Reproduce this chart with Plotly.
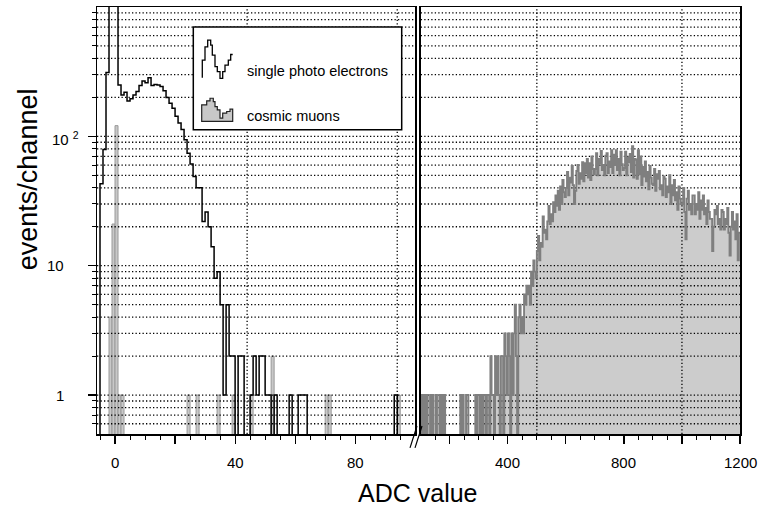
import math
import plotly.graph_objects as go

# ---------------- data ----------------
# Left panel: one ADC channel per bin, bin k covers [k, k+1), channels -6 .. 99
left_first_channel = -6
spe_counts = [
    0, 43, 79, 311, 2000, 2000, 2000,                    # -6 .. 0 (last three off scale)
    250, 209, 219, 188, 195, 209, 222, 247, 268, 260,    # 1 .. 10
    284, 247, 252, 250, 243, 225, 200, 180, 165, 143,    # 11 .. 20
    127, 113, 94, 74, 61, 49, 40, 40, 22, 26,            # 21 .. 30
    20, 14, 8, 9, 5, 1, 5, 2, 2, 0,                      # 31 .. 40
    2, 2, 0, 0, 1, 2, 1, 2, 2, 1,                        # 41 .. 50
    1, 0, 1, 0, 0, 0, 0, 1, 0, 0,                        # 51 .. 60
    1, 1, 1, 0, 0, 0, 0, 0, 0, 0,                        # 61 .. 70
    0, 0, 0, 0, 0, 0, 0, 0, 0, 0,                        # 71 .. 80
    0, 0, 0, 0, 0, 0, 0, 0, 0, 0,                        # 81 .. 90
    0, 0, 1, 0, 0, 0, 0, 0, 0,                           # 91 .. 99
]
# cosmic muons in the left panel (channel: count), all other channels empty
muon_low_nonzero = {-2: 4, -1: 21, 0: 121, 1: 1, 2: 1, 24: 1, 27: 1, 34: 1,
                    39: 1, 45: 1, 52: 2, 70: 1, 71: 1, 94: 1}

# Right panel: cosmic muons, counts per channel, bins of 4 channels from 100 to 1200
muon_first_channel = 100
muon_bin_width = 4
muon_counts = [
    0, 1, 0, 1, 0, 1, 0, 0, 1, 0,   1, 0, 0, 1, 0, 0, 1, 0, 1, 0,      # 100-176
    1, 0, 0, 0, 0, 0, 0, 0, 0, 0,   0, 0, 0, 0, 1, 0, 1, 0, 0, 1,      # 180-256
    1, 0, 0, 0, 0, 0, 0, 1, 0, 1,                                      # 260-296
    1, 0, 1, 0, 1, 1, 0, 1, 1, 0,   2, 1, 1, 0, 2, 1, 2, 1, 0, 2,      # 300-376
    2, 0, 3, 2, 1, 3, 2, 0, 3, 1,   3, 5, 2, 0, 4,                     # 380-436
    5, 3, 4, 3, 6,  5, 7, 6, 7, 5,                                     # 440-476
    9, 7, 11, 9, 8,  13, 17, 11, 15, 14,                               # 480-516
    24, 18, 19, 16, 22,  29, 21, 25, 22, 31,                           # 520-556
    26, 35, 29, 38, 27,  41, 30, 46, 37, 34,                           # 560-596
    40, 53, 35, 48, 44,  59, 42, 30, 38, 54,                           # 600-636
    60, 43, 52, 47, 63,  45, 62, 52, 67, 48,                           # 640-676
    62, 46, 70, 56, 51,  56, 74, 50, 67, 62,                           # 680-716
    77, 55, 60, 50, 71,  74, 52, 64, 58, 78,                           # 720-756
    52, 72, 60, 78, 55,  67, 50, 76, 61, 55,                           # 760-796
    57, 76, 50, 68, 63,  73, 53, 84, 48, 67,                           # 800-836
    66, 47, 78, 51, 70,  42, 58, 49, 64, 45,                           # 840-876
    53, 39, 59, 48, 43,  42, 56, 38, 51, 47,                           # 880-916
    54, 39, 42, 35, 49,  47, 34, 41, 37, 50,                           # 920-956
    30, 42, 35, 46, 32,  37, 27, 41, 33, 30,                           # 960-996
    30, 40, 26, 16, 33,  38, 27, 30, 25, 35,                           # 1000-1036
    35, 25, 30, 27, 37,  23, 32, 27, 35, 25,                           # 1040-1076
    28, 21, 32, 26, 23,  23, 13, 20, 27, 25,                           # 1080-1116
    29, 21, 23, 19, 27,  26, 19, 23, 21, 28,                           # 1120-1156
    18, 12, 20, 26, 19,  22, 16, 25, 11, 18,                           # 1160-1196
]

left_tick_vals = [0, 40, 80]
left_tick_text = ["0", "40", "80"]
right_tick_vals = [400, 800, 1200]
right_tick_text = ["400", "800", "1200"]
y_tick_vals = [1, 10, 100]
y_tick_text = ["1", "10", "10 <sup>2</sup>"]
left_vgrid = [44, 94]
right_vgrid = [500, 1000]
x_title = "ADC value"
y_title = "events/channel"
legend_labels = ["single photo electrons", "cosmic muons"]

# ---------------- geometry helpers ----------------
W, H = 759, 511
ML, MR, MT, MB = 97, 19, 5, 77
PW, PH = W - ML - MR, H - MT - MB
Y_LO, Y_HI = 0.5, 1000
FONT = "Liberation Sans, Arial, Helvetica, sans-serif"


def px_x(px):
    return (px - ML) / PW


def px_y(py):
    return (H - MB - py) / PH


def log_safe(v):
    return v if v > 0 else 0.01


# grid levels (all 1..9 x decade inside the range)
grid_levels = []
for dec in (0.1, 1, 10, 100):
    for m in range(1, 10):
        v = round(m * dec, 6)
        if Y_LO < v < Y_HI:
            grid_levels.append(v)
minor_y = [v for v in grid_levels if v not in y_tick_vals]

fig = go.Figure()

# left panel gray histogram (cosmic muons near pedestal)
lk = sorted(muon_low_nonzero)
fig.add_trace(go.Bar(
    x=[k + 0.5 for k in lk], y=[muon_low_nonzero[k] for k in lk], width=1,
    marker=dict(color="#c8c8c8", line=dict(color="#9a9a9a", width=1)),
    xaxis="x", yaxis="y", hoverinfo="skip", showlegend=False))

# right panel filled histogram
n_m = len(muon_counts)
m_edges = [muon_first_channel + i * muon_bin_width for i in range(n_m + 1)]
m_cent = [e + muon_bin_width / 2 for e in m_edges[:-1]]
fig.add_trace(go.Bar(
    x=[c for c, v in zip(m_cent, muon_counts) if v > 0],
    y=[v for v in muon_counts if v > 0], width=muon_bin_width,
    marker=dict(color="#cccccc", line=dict(width=0)),
    xaxis="x2", yaxis="y2", hoverinfo="skip", showlegend=False))

# dotted grid drawn over the fills
L_LO, L_HI = -6, 100
R_LO, R_HI = 100, 1200
for (xa, ya, lo, hi, vg) in (("x", "y", L_LO, L_HI, left_vgrid),
                             ("x2", "y2", R_LO, R_HI, right_vgrid)):
    gx, gy = [], []
    for v in grid_levels:
        gx += [lo, hi, None]
        gy += [v, v, None]
    for xv in vg:
        gx += [xv, xv, None]
        gy += [Y_LO, Y_HI, None]
    fig.add_trace(go.Scatter(
        x=gx, y=gy, mode="lines", xaxis=xa, yaxis=ya,
        line=dict(color="black", width=1.3, dash="1.3px,2.2px"),
        hoverinfo="skip", showlegend=False))

# right panel outline (dark gray step line)
fig.add_trace(go.Scatter(
    x=m_edges, y=[log_safe(v) for v in muon_counts] + [log_safe(muon_counts[-1])],
    mode="lines", line=dict(color="#7f7f7f", width=1.9, shape="hv"),
    xaxis="x2", yaxis="y2", hoverinfo="skip", showlegend=False))

# single photo electron spectrum (black step line)
n_s = len(spe_counts)
s_edges = [left_first_channel + i for i in range(n_s + 1)]
fig.add_trace(go.Scatter(
    x=s_edges, y=[log_safe(v) for v in spe_counts] + [log_safe(spe_counts[-1])],
    mode="lines", line=dict(color="black", width=1.5, shape="hv"),
    xaxis="x", yaxis="y", hoverinfo="skip", showlegend=False))

axis_common = dict(showline=True, linecolor="black", linewidth=1.5, mirror=True,
                   showgrid=False, zeroline=False, showticklabels=False,
                   fixedrange=True)

fig.update_layout(
    width=W, height=H,
    margin=dict(l=ML, r=MR, t=MT, b=MB),
    paper_bgcolor="white", plot_bgcolor="white",
    barmode="overlay", bargap=0,
    font=dict(family=FONT, color="black", size=15),
    xaxis=dict(domain=[0, 318.25 / PW], range=[L_LO, L_HI], anchor="y",
               ticks="outside", tickmode="array", tickvals=[0, 20, 40, 60, 80],
               ticklen=8, tickwidth=1.2, tickcolor="black",
               minor=dict(tickmode="array",
                          tickvals=[v for v in range(-5, 100, 5) if v % 20],
                          ticks="outside", ticklen=4, tickwidth=1,
                          tickcolor="black", showgrid=False),
               **axis_common),
    xaxis2=dict(domain=[323.75 / PW, 1], range=[R_LO, R_HI], anchor="y2",
                ticks="outside", tickmode="array",
                tickvals=[200, 400, 600, 800, 1000, 1200],
                ticklen=8, tickwidth=1.2, tickcolor="black",
                minor=dict(tickmode="array",
                           tickvals=[v for v in range(150, 1200, 50) if v % 200],
                           ticks="outside", ticklen=4, tickwidth=1,
                           tickcolor="black", showgrid=False),
                **axis_common),
    yaxis=dict(type="log", range=[math.log10(Y_LO), math.log10(Y_HI)], anchor="x",
               ticks="outside", tickmode="array", tickvals=y_tick_vals,
               ticklen=8, tickwidth=1.2, tickcolor="black",
               minor=dict(tickmode="array", tickvals=minor_y, ticks="outside",
                          ticklen=4, tickwidth=1, tickcolor="black",
                          showgrid=False),
               **axis_common),
    yaxis2=dict(type="log", range=[math.log10(Y_LO), math.log10(Y_HI)],
                matches="y", anchor="x2", ticks="", **axis_common),
)

annotations = []
for v, t in zip(left_tick_vals, left_tick_text):
    annotations.append(dict(x=v, xref="x", y=px_y(463), yref="paper", text=t,
                            showarrow=False, xanchor="center", yanchor="middle",
                            font=dict(size=15)))
for v, t in zip(right_tick_vals, right_tick_text):
    annotations.append(dict(x=v, xref="x2", y=px_y(463), yref="paper", text=t,
                            showarrow=False, xanchor="center", yanchor="middle",
                            font=dict(size=15)))
for v, t in zip(y_tick_vals, y_tick_text):
    if "sup" in t:
        annotations.append(dict(x=px_x(50), xref="paper", y=math.log10(v), yref="y",
                                text=t, showarrow=False, xanchor="left",
                                yanchor="middle", yshift=-2, font=dict(size=15)))
    else:
        annotations.append(dict(x=px_x(66), xref="paper", y=math.log10(v), yref="y",
                                text=t, showarrow=False, xanchor="right",
                                yanchor="middle", font=dict(size=15)))
annotations.append(dict(x=px_x(418), y=px_y(493), xref="paper", yref="paper",
                        text=x_title, showarrow=False, font=dict(size=25),
                        xanchor="center", yanchor="middle"))
annotations.append(dict(x=px_x(28), y=px_y(178), xref="paper", yref="paper",
                        text=y_title, showarrow=False, font=dict(size=27),
                        textangle=-90, xanchor="center", yanchor="middle"))
annotations.append(dict(x=px_x(245), y=px_y(69), xref="paper", yref="paper",
                        text=legend_labels[0], showarrow=False, font=dict(size=14.5),
                        xanchor="left", yanchor="middle"))
annotations.append(dict(x=px_x(245), y=px_y(115), xref="paper", yref="paper",
                        text=legend_labels[1], showarrow=False, font=dict(size=14.5),
                        xanchor="left", yanchor="middle"))


def path_from_px(pts, close=False):
    s = "M " + " L ".join(f"{px_x(a):.5f},{px_y(b):.5f}" for a, b in pts)
    return s + (" Z" if close else "")


spe_icon = [(202.3, 76), (202.3, 58.3), (205, 58.3), (205, 45), (207.7, 45),
            (207.7, 38.3), (210.7, 38.3), (210.7, 43.3), (212.3, 43.3), (212.3, 53.3),
            (215, 53.3), (215, 65), (217.3, 65), (217.3, 70), (220, 70), (220, 76.7),
            (222.7, 76.7), (222.7, 70), (225, 70), (225, 63.3), (228.3, 63.3),
            (228.3, 58.3), (230.7, 58.3), (230.7, 52.7), (232.7, 52.7)]
muon_icon = [(201.7, 120), (201.7, 103.3), (206.7, 103.3), (206.7, 99.3), (210, 99.3),
             (210, 96.7), (213.3, 96.7), (213.3, 100), (215, 100), (215, 105),
             (217.3, 105), (217.3, 108.3), (220, 108.3), (220, 116.7), (222.7, 116.7),
             (222.7, 111.7), (226.7, 111.7), (226.7, 110), (230, 110), (230, 107.7),
             (232.7, 107.7), (232.7, 120)]

shapes = [
    dict(type="rect", xref="paper", yref="paper", x0=px_x(193.3), x1=px_x(401.7),
         y0=px_y(128.3), y1=px_y(25), fillcolor="white",
         line=dict(color="black", width=1.5), layer="above"),
    dict(type="path", xref="paper", yref="paper", path=path_from_px(spe_icon),
         line=dict(color="black", width=1.3), layer="above"),
    dict(type="path", xref="paper", yref="paper", path=path_from_px(muon_icon, True),
         fillcolor="#c8c8c8", line=dict(color="#222222", width=1.2), layer="above"),
    dict(type="line", xref="paper", yref="paper", x0=px_x(410), y0=px_y(448),
         x1=px_x(417), y1=px_y(426), line=dict(color="black", width=1.2)),
    dict(type="line", xref="paper", yref="paper", x0=px_x(415), y0=px_y(448),
         x1=px_x(422), y1=px_y(426), line=dict(color="black", width=1.2)),
]

fig.update_layout(annotations=annotations, shapes=shapes)
fig.write_html("out.html",
               config={"displayModeBar": False, "staticPlot": True},
               post_script="document.body.style.margin='0';"
                           "document.body.style.overflow='hidden';")
